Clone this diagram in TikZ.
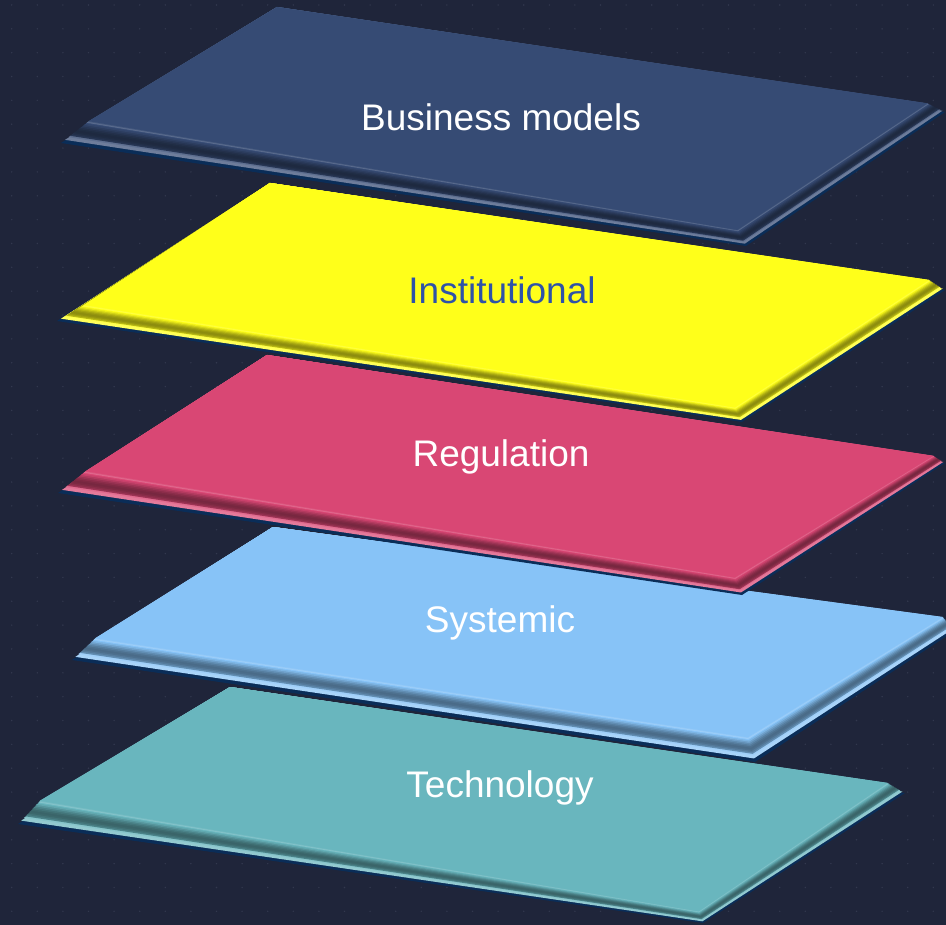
\documentclass[tikz,border=0pt]{standalone}
\usepackage{fontspec}
\setmainfont{Liberation Sans}
\usetikzlibrary{calc}
\definecolor{bgcol}{RGB}{31,37,58}
\definecolor{dotcol}{RGB}{50,56,78}
\definecolor{rimcol}{RGB}{10,45,88}
\definecolor{bizcol}{RGB}{54,75,116}
\definecolor{instcol}{RGB}{255,255,26}
\definecolor{regcol}{RGB}{217,71,116}
\definecolor{syscol}{RGB}{135,195,247}
\definecolor{techcol}{RGB}{105,182,190}
\definecolor{insttext}{RGB}{46,82,168}
% #1 prefix, #2 face colour
\newcommand\slab[2]{%
  \coordinate (#1RF) at ($(#1Rs)!-0.5!(#1Ro)$);
  \coordinate (#1BF) at ($(#1Bs)!-0.5!(#1Bo)$);
  \coordinate (#1LF) at ($(#1Ls)!-0.5!(#1Lo)$);
  \fill[rimcol] (#1T) -- (#1Ro) -- (#1Bo) -- (#1Lo) -- cycle;
  \foreach \u/\pc/\mx in {0.86/72/white, 0.74/80/white, 0.68/72/black, 0.62/63/black, 0.56/57/black,
      0.50/55/black, 0.44/58/black, 0.38/64/black, 0.32/72/black, 0.26/82/black, 0.20/92/black,
      0.14/100/black, 0.10/82/white, 0.06/92/white}{%
    \fill[#2!\pc!\mx] (#1T) -- ($(#1RF)!\u!(#1Ro)$) -- ($(#1BF)!\u!(#1Bo)$) -- ($(#1LF)!\u!(#1Lo)$) -- cycle;
  }%
  \fill[#2] (#1T) -- ($(#1RF)!0.03!(#1Ro)$) -- ($(#1BF)!0.03!(#1Bo)$) -- ($(#1LF)!0.03!(#1Lo)$) -- cycle;
}
\begin{document}
\begin{tikzpicture}[x=1pt,y=-1pt,
  lbl/.style={anchor=base,inner sep=0pt,text=white,font=\fontsize{37}{44}\selectfont}]
\useasboundingbox (0,0) rectangle (946,925);
\fill[bgcol] (0,0) rectangle (946,925);
\foreach \i in {0,...,36}{\foreach \j in {0,...,38}{\fill[dotcol] (11.7+25.6*\i,5+23.85*\j) circle (0.8);}}
% Technology
\coordinate (tT) at (230,687); \coordinate (tRs) at (893,786); \coordinate (tBs) at (700,915); \coordinate (tLs) at (33,808);
\coordinate (tRo) at (905,793); \coordinate (tBo) at (703,923); \coordinate (tLo) at (18,824);
% Systemic
\coordinate (sT) at (273,527); \coordinate (sRs) at (947,621); \coordinate (sBs) at (750,745); \coordinate (sLs) at (88,645);
\coordinate (sRo) at (956,630); \coordinate (sBo) at (755,762); \coordinate (sLo) at (72,660);
% Regulation
\coordinate (rT) at (267,355); \coordinate (rRs) at (937,458); \coordinate (rBs) at (737,583); \coordinate (rLs) at (77,478);
\coordinate (rRo) at (945,463); \coordinate (rBo) at (742,595); \coordinate (rLo) at (58,493);
% Institutional
\coordinate (iT) at (270,183); \coordinate (iRs) at (934,283); \coordinate (iBs) at (737,412); \coordinate (iLs) at (76,310);
\coordinate (iRo) at (945,290); \coordinate (iBo) at (742,422); \coordinate (iLo) at (57,321);
% Business models
\coordinate (bT) at (277,7); \coordinate (bRs) at (933,106); \coordinate (bBs) at (740,235); \coordinate (bLs) at (80,128);
\coordinate (bRo) at (945,112); \coordinate (bBo) at (746,246); \coordinate (bLo) at (61,143);
\slab{t}{techcol}
\slab{s}{syscol}
\slab{r}{regcol}
\slab{i}{instcol}
\slab{b}{bizcol}
\node[lbl] (techlabel) at (500,797) {Technology};
\node[lbl] (syslabel) at (500,632) {Systemic};
\node[lbl] (reglabel) at (501,467) {Regulation};
\node[lbl,text=insttext] (instlabel) at (502,304) {Institutional};
\node[lbl] (bizlabel) at (501,131) {Business models};
\end{tikzpicture}
\end{document}
